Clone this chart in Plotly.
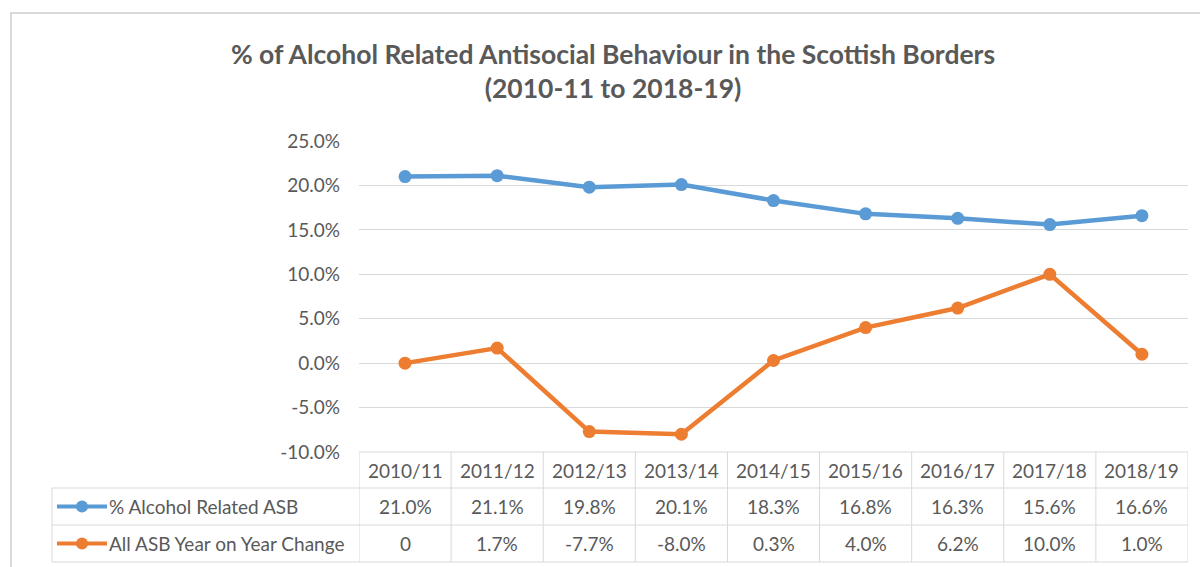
import plotly.graph_objects as go

categories = ["2010/11", "2011/12", "2012/13", "2013/14", "2014/15", "2015/16", "2016/17", "2017/18", "2018/19"]
alcohol_pct = [21.0, 21.1, 19.8, 20.1, 18.3, 16.8, 16.3, 15.6, 16.6]
yoy_change = [0, 1.7, -7.7, -8.0, 0.3, 4.0, 6.2, 10.0, 1.0]
alcohol_labels = ["21.0%", "21.1%", "19.8%", "20.1%", "18.3%", "16.8%", "16.3%", "15.6%", "16.6%"]
yoy_labels = ["0", "1.7%", "-7.7%", "-8.0%", "0.3%", "4.0%", "6.2%", "10.0%", "1.0%"]
series_names = ["% Alcohol Related ASB", "All ASB Year on Year Change"]
ytick_vals = [-10, -5, 0, 5, 10, 15, 20, 25]
ytick_labels = ["-10.0%", "-5.0%", "0.0%", "5.0%", "10.0%", "15.0%", "20.0%", "25.0%"]
colors = ["#5B9BD5", "#ED7D31"]

W, H = 1200, 567
def px(x): return x / W
def py(y): return 1 - y / H

FONT = "Lato"
TXT = "#595959"
GRID = "#D9D9D9"
FS = 19

fig = go.Figure()
for name, vals, col in zip(series_names, [alcohol_pct, yoy_change], colors):
    fig.add_trace(go.Scatter(x=categories, y=vals, name=name, mode="lines+markers",
                             line=dict(color=col, width=4.5),
                             marker=dict(color=col, size=13), showlegend=False))

shapes = []
shapes.append(dict(type="rect", xref="paper", yref="paper", x0=px(11), x1=px(1215), y0=py(600), y1=py(13),
                   line=dict(color="#D9D9D9", width=2)))
row_y = [452, 488, 525, 562]
shapes.append(dict(type="line", xref="paper", yref="paper", x0=px(359), x1=px(1188), y0=py(452), y1=py(452), line=dict(color=GRID, width=1)))
for yy in row_y[1:]:
    shapes.append(dict(type="line", xref="paper", yref="paper", x0=px(52), x1=px(1188), y0=py(yy), y1=py(yy), line=dict(color=GRID, width=1)))
shapes.append(dict(type="line", xref="paper", yref="paper", x0=px(52), x1=px(52), y0=py(488), y1=py(562), line=dict(color=GRID, width=1)))
for i in range(len(categories) + 1):
    shapes.append(dict(type="line", xref="x", yref="paper", x0=i - 0.5, x1=i - 0.5, y0=py(452), y1=py(562), line=dict(color=GRID, width=1)))
for col, yy in zip(colors, [506.5, 543.5]):
    shapes.append(dict(type="line", xref="paper", yref="paper", x0=px(57), x1=px(107), y0=py(yy), y1=py(yy), line=dict(color=col, width=4)))
    shapes.append(dict(type="circle", xref="paper", yref="paper", x0=px(76), x1=px(88), y0=py(yy + 6), y1=py(yy - 6),
                       fillcolor=col, line=dict(color=col, width=0)))

annotations = []
for i, c in enumerate(categories):
    annotations.append(dict(x=i, y=py(470), xref="x", yref="paper", text=c, showarrow=False, yanchor="middle",
                            font=dict(family=FONT, size=FS, color=TXT)))
    annotations.append(dict(x=i, y=py(506.5), xref="x", yref="paper", text=alcohol_labels[i], showarrow=False, yanchor="middle",
                            font=dict(family=FONT, size=FS, color=TXT)))
    annotations.append(dict(x=i, y=py(543.5), xref="x", yref="paper", text=yoy_labels[i], showarrow=False, yanchor="middle",
                            font=dict(family=FONT, size=FS, color=TXT)))
for name, yy in zip(series_names, [506.5, 543.5]):
    annotations.append(dict(x=px(107), y=py(yy), xref="paper", yref="paper", text=name, xanchor="left", yanchor="middle",
                            showarrow=False, font=dict(family=FONT, size=FS, color=TXT)))

fig.update_layout(
    width=W, height=H,
    margin=dict(l=0, r=0, t=0, b=0, autoexpand=False),
    paper_bgcolor="white", plot_bgcolor="white",
    title=dict(text="% of Alcohol Related Antisocial Behaviour in the Scottish Borders<br>(2010-11 to 2018-19)",
               x=px(613), xanchor="center", y=py(64), yanchor="middle", automargin=False,
               font=dict(family=FONT, size=26.5, color=TXT, weight="bold")),
    xaxis=dict(domain=[px(359), px(1188)], range=[-0.5, 8.5], showticklabels=False, showgrid=False,
               zeroline=False, showline=False, ticks="", automargin=False),
    yaxis=dict(domain=[py(452), py(141)], range=[-10, 25], tickmode="array", tickvals=ytick_vals, ticktext=ytick_labels,
               showgrid=True, gridcolor=GRID, gridwidth=1, zeroline=False, showline=False, automargin=False,
               tickfont=dict(family=FONT, size=FS, color=TXT), ticklabelstandoff=18),
    shapes=shapes, annotations=annotations,
)
fig.write_html("out.html")
